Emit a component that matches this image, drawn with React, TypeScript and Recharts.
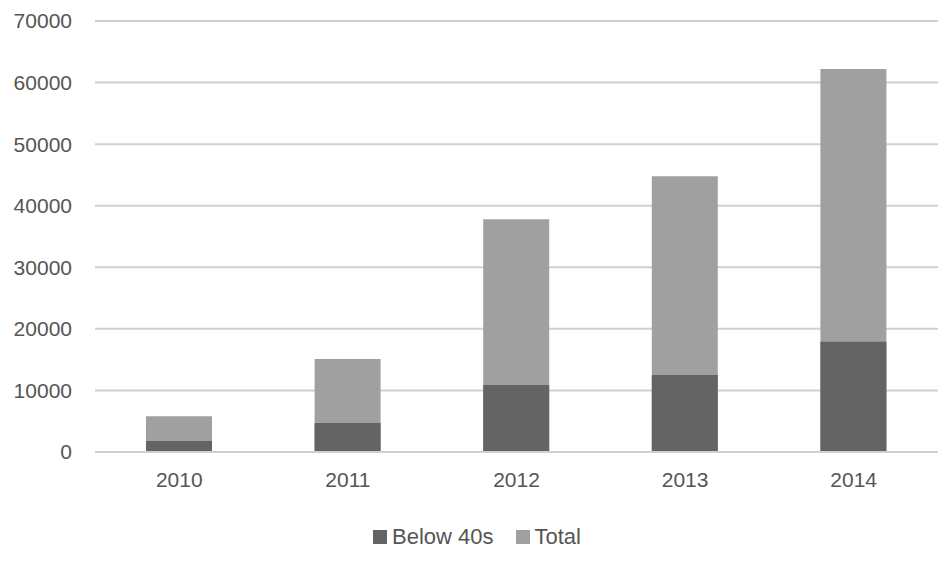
import { BarChart, Bar, XAxis, YAxis, CartesianGrid, Legend } from "recharts";

const years = ["2010", "2011", "2012", "2013", "2014"];
const below40s = [1800, 4700, 10900, 12500, 17900];
const total = [5800, 15100, 37800, 44800, 62200];
const yTicks = [0, 10000, 20000, 30000, 40000, 50000, 60000, 70000];

const DARK = "#646464";
const LIGHT = "#a0a0a0";
const GRID = "#d0d0d0";
const TEXT = "#555555";
const FONT = "'Liberation Sans', Arial, sans-serif";

const data = years.map((year, i) => ({
  year,
  below: below40s[i],
  total: total[i],
}));

const legendItems = [
  { label: "Below 40s", color: DARK },
  { label: "Total", color: LIGHT },
];

function ChartLegend() {
  return (
    <div
      style={{
        display: "flex",
        justifyContent: "center",
        gap: 22,
        paddingTop: 17,
        paddingLeft: 16,
        fontFamily: FONT,
        fontSize: 22,
        color: TEXT,
      }}
    >
      {legendItems.map((it) => (
        <span key={it.label} style={{ display: "flex", alignItems: "center" }}>
          <span
            style={{
              width: 14,
              height: 14,
              background: it.color,
              marginRight: 5,
              display: "inline-block",
            }}
          />
          {it.label}
        </span>
      ))}
    </div>
  );
}

export default function App() {
  return (
    <div style={{ position: "absolute", left: 0, top: 0, background: "#fff" }}>
      <BarChart
        width={950}
        height={561}
        data={data}
        margin={{ top: 21, right: 12, left: 0, bottom: 0 }}
      >
        <CartesianGrid vertical={false} stroke={GRID} strokeWidth={2} />
        <XAxis
          dataKey="year"
          height={55}
          axisLine={{ stroke: GRID, strokeWidth: 2 }}
          tickLine={false}
          tickSize={0}
          tickMargin={20}
          tick={{ fill: TEXT, fontSize: 21, fontFamily: FONT }}
        />
        <XAxis dataKey="year" xAxisId="front" hide />
        <YAxis
          width={95}
          domain={[0, 70000]}
          ticks={yTicks}
          axisLine={false}
          tickLine={false}
          tickSize={0}
          tickMargin={23}
          tick={{ fill: TEXT, fontSize: 21, fontFamily: FONT }}
        />
        <Legend verticalAlign="bottom" height={54} content={<ChartLegend />} />
        <Bar dataKey="total" name="Total" fill={LIGHT} barSize={66} isAnimationActive={false} />
        <Bar
          dataKey="below"
          name="Below 40s"
          xAxisId="front"
          fill={DARK}
          barSize={66}
          isAnimationActive={false}
        />
      </BarChart>
    </div>
  );
}
